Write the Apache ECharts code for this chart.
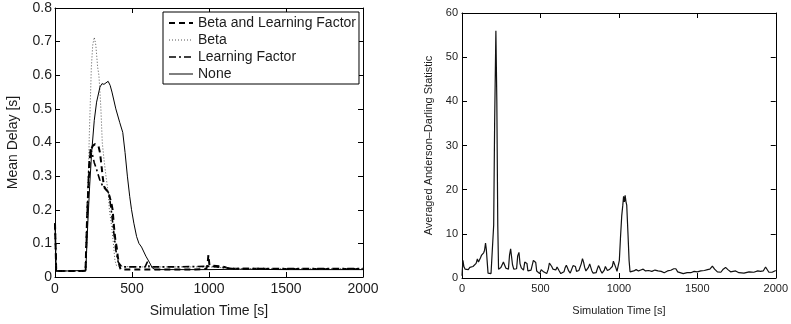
<!DOCTYPE html>
<html>
<head>
<meta charset="utf-8">
<title>Mean Delay and Anderson–Darling Statistic</title>
<script src="https://cdn.jsdelivr.net/npm/echarts@6/dist/echarts.min.js"></script>
<style>
  html, body { margin: 0; padding: 0; background: #fff; }
  #chart { width: 791px; height: 324px; }
</style>
</head>
<body>
<div id="chart"></div>
<script>
// ---- data: [simulation time (s), value] ----
const seriesNames = ['Beta and Learning Factor', 'Beta', 'Learning Factor', 'None'];

const delayBetaLF = [
  [0, 0.16], [8, 0.018], [100, 0.018], [198, 0.018], [210, 0.2], [220, 0.3], [231, 0.376],
  [245, 0.39], [260, 0.395], [270, 0.4], [282, 0.39], [292, 0.37], [300, 0.34], [309, 0.3],
  [318, 0.27], [331, 0.26], [345, 0.255], [357, 0.25], [366, 0.22], [374, 0.2], [383, 0.15],
  [392, 0.11], [400, 0.09], [408, 0.06], [415, 0.04], [426, 0.022], [500, 0.022], [700, 0.022],
  [900, 0.022], [982, 0.024], [990, 0.035], [996, 0.065], [1003, 0.035], [1012, 0.03],
  [1100, 0.03], [1130, 0.025], [1400, 0.024], [1700, 0.024], [2000, 0.024]
];

const delayBeta = [
  [0, 0.16], [8, 0.018], [100, 0.018], [200, 0.018], [206, 0.1], [212, 0.228], [218, 0.33],
  [223, 0.426], [230, 0.53], [236, 0.624], [245, 0.69], [255, 0.713], [265, 0.69], [277, 0.624],
  [285, 0.6], [292, 0.55], [298, 0.5], [307, 0.4], [318, 0.35], [331, 0.3], [346, 0.25],
  [353, 0.2], [368, 0.15], [379, 0.1], [389, 0.05], [400, 0.033], [500, 0.03], [700, 0.03],
  [900, 0.03], [1000, 0.03], [1080, 0.028], [1150, 0.025], [1500, 0.025], [2000, 0.025]
];

const delayLF = [
  [0, 0.16], [8, 0.018], [100, 0.018], [198, 0.018], [210, 0.2], [220, 0.33], [230, 0.38],
  [240, 0.37], [255, 0.34], [270, 0.32], [290, 0.29], [310, 0.27], [330, 0.26], [350, 0.25],
  [365, 0.2], [380, 0.14], [395, 0.08], [410, 0.045], [425, 0.035], [440, 0.03], [585, 0.03],
  [600, 0.045], [612, 0.03], [800, 0.03], [1000, 0.032], [1050, 0.03], [1100, 0.028],
  [1150, 0.025], [1600, 0.025], [2000, 0.025]
];

const delayNone = [
  [0, 0.16], [8, 0.018], [100, 0.018], [200, 0.02], [212, 0.15], [225, 0.27], [238, 0.37],
  [255, 0.466], [270, 0.52], [292, 0.565], [305, 0.575], [318, 0.573], [330, 0.578],
  [345, 0.582], [358, 0.57], [370, 0.55], [395, 0.5], [420, 0.46], [440, 0.43], [455, 0.37],
  [470, 0.3], [485, 0.24], [497, 0.2], [512, 0.16], [530, 0.12], [545, 0.1], [562, 0.089],
  [590, 0.062], [615, 0.042], [632, 0.027], [650, 0.022], [800, 0.022], [1000, 0.022],
  [1200, 0.023], [1500, 0.022], [2000, 0.022]
];

const andersonDarling = [
  [0, 0.5], [6, 4.0], [12, 2.6], [20, 2.0], [30, 2.3], [40, 1.9], [50, 2.4], [60, 2.2],
  [70, 2.6], [80, 2.2], [90, 3.3], [98, 4.3], [105, 3.6], [112, 3.2], [118, 4.6], [125, 5.2],
  [132, 4.8], [138, 5.7], [144, 6.3], [150, 7.9], [155, 6.5], [160, 4.0], [166, 1.1],
  [175, 1.0], [185, 1.0], [195, 1.1], [202, 12], [208, 35], [216, 56], [222, 40], [228, 12],
  [233, 2.0], [240, 1.9], [248, 2.4], [256, 3.0], [264, 3.6], [272, 2.9], [280, 2.2],
  [288, 1.8], [296, 2.0], [303, 5.2], [310, 6.6], [316, 6.4], [322, 3.0], [330, 2.0],
  [340, 1.7], [348, 2.1], [355, 5.0], [363, 5.8], [370, 3.2], [378, 2.3], [385, 2.1],
  [392, 1.8], [400, 3.6], [407, 3.7], [414, 3.3], [420, 1.6], [430, 1.9], [440, 1.8],
  [448, 1.7], [455, 4.0], [463, 4.2], [470, 3.5], [476, 1.6], [486, 1.2], [495, 1.0],
  [505, 1.9], [512, 2.0], [520, 1.4], [530, 1.0], [540, 1.0], [550, 2.0], [557, 3.4],
  [565, 3.6], [572, 2.6], [580, 2.0], [590, 2.4], [598, 1.8], [606, 2.5], [612, 2.4],
  [620, 1.6], [630, 1.0], [640, 0.9], [650, 1.4], [658, 2.4], [665, 2.9], [672, 2.3],
  [680, 1.6], [690, 1.1], [700, 1.4], [708, 2.8], [716, 3.2], [723, 2.6], [730, 1.5],
  [738, 1.2], [745, 1.7], [752, 1.8], [760, 3.2], [768, 4.4], [775, 3.6], [782, 2.4],
  [790, 1.6], [798, 1.4], [806, 2.4], [814, 3.2], [820, 2.8], [828, 1.6], [836, 1.1],
  [845, 1.1], [855, 1.2], [862, 2.0], [870, 2.8], [877, 2.3], [885, 1.6], [893, 1.1],
  [900, 1.2], [907, 1.8], [914, 2.6], [920, 2.2], [927, 1.7], [935, 1.6], [942, 2.0],
  [950, 1.8], [958, 2.6], [965, 3.8], [972, 3.4], [980, 2.4], [988, 1.5], [995, 1.2],
  [1003, 4], [1010, 9], [1018, 14], [1025, 16.5], [1030, 18.5], [1035, 17.2], [1040, 18.7],
  [1045, 17.3], [1050, 16.5], [1058, 10], [1065, 4], [1071, 1.4], [1080, 1.7], [1095, 1.6],
  [1110, 1.9], [1125, 1.6], [1140, 1.8], [1155, 2.0], [1170, 1.6], [1190, 1.7], [1210, 1.5],
  [1230, 1.8], [1250, 1.6], [1270, 1.5], [1289, 1.2], [1310, 1.6], [1331, 1.75], [1350, 2.1],
  [1363, 2.1], [1375, 1.4], [1384, 1.0], [1410, 1.0], [1435, 1.2], [1458, 1.2], [1480, 1.5],
  [1500, 1.4], [1522, 1.6], [1545, 1.7], [1565, 1.9], [1580, 2.0], [1596, 2.7], [1610, 2.0],
  [1628, 1.4], [1650, 1.3], [1665, 2.0], [1680, 2.4], [1695, 1.9], [1712, 1.4], [1728, 1.5],
  [1744, 1.6], [1765, 1.2], [1797, 1.1], [1830, 1.4], [1860, 1.3], [1885, 1.6], [1903, 1.5],
  [1920, 1.6], [1935, 2.5], [1945, 2.6], [1956, 1.3], [1977, 1.3], [1988, 1.3], [2000, 1.7]
];

// ---- tick labels ----
const timeTicks = ['0', '500', '1000', '1500', '2000'];
const delayTicks = ['0', '0.1', '0.2', '0.3', '0.4', '0.5', '0.6', '0.7', '0.8'];
const adTicks = ['0', '10', '20', '30', '40', '50', '60'];

// ---- styling helpers ----
const FONT = '"Liberation Sans", Arial, Helvetica, sans-serif';
const INK = '#1c1c1c';

// line look of each delay curve (also used for its legend sample)
const lineLooks = [
  { color: '#000', width: 2, type: [6, 4] },
  { color: '#555', width: 1, type: [1, 2] },
  { color: '#000', width: 1.6, type: [7, 3, 2, 3] },
  { color: '#000', width: 1, type: 'solid' }
];

function boxAxis(opts) {
  const base = {
    type: 'value',
    gridIndex: opts.grid,
    position: opts.position,
    min: opts.min,
    max: opts.max,
    interval: opts.interval,
    splitLine: { show: false },
    axisLine: { show: true, onZero: false, lineStyle: { color: '#000', width: 1 } },
    axisTick: { show: true, inside: true, length: 5, lineStyle: { color: '#000', width: 1 } },
    axisLabel: { show: false }
  };
  if (opts.ticks) {
    base.axisLabel = {
      show: true,
      color: INK,
      fontFamily: FONT,
      fontSize: opts.fontSize,
      margin: opts.margin,
      formatter: (v) => opts.ticks[Math.round((v - opts.min) / opts.interval)]
    };
  }
  if (opts.name) {
    base.name = opts.name;
    base.nameLocation = 'middle';
    base.nameGap = opts.nameGap;
    base.nameTextStyle = { color: INK, fontFamily: FONT, fontSize: opts.nameSize };
  }
  return base;
}

const xAxes = [
  boxAxis({ grid: 0, position: 'bottom', min: 0, max: 2000, interval: 500, ticks: timeTicks,
            fontSize: 14, margin: 5, name: 'Simulation Time [s]', nameGap: 27, nameSize: 14 }),
  boxAxis({ grid: 0, position: 'top', min: 0, max: 2000, interval: 500 }),
  boxAxis({ grid: 1, position: 'bottom', min: 0, max: 2000, interval: 500, ticks: timeTicks,
            fontSize: 11, margin: 5, name: 'Simulation Time [s]', nameGap: 27, nameSize: 11 }),
  boxAxis({ grid: 1, position: 'top', min: 0, max: 2000, interval: 500 })
];

const yAxes = [
  boxAxis({ grid: 0, position: 'left', min: 0, max: 0.8, interval: 0.1, ticks: delayTicks,
            fontSize: 14, margin: 3, name: 'Mean Delay [s]', nameGap: 35, nameSize: 14 }),
  boxAxis({ grid: 0, position: 'right', min: 0, max: 0.8, interval: 0.1 }),
  boxAxis({ grid: 1, position: 'left', min: 0, max: 60, interval: 10, ticks: adTicks,
            fontSize: 11, margin: 4, name: 'Averaged Anderson\u2013Darling Statistic', nameGap: 28, nameSize: 11 }),
  boxAxis({ grid: 1, position: 'right', min: 0, max: 60, interval: 10 })
];

function delayLine(i, data) {
  return {
    name: seriesNames[i],
    type: 'line',
    xAxisIndex: 0,
    yAxisIndex: 0,
    data: data,
    symbol: 'none',
    smooth: false,
    lineStyle: Object.assign({}, lineLooks[i]),
    itemStyle: { color: '#000' }
  };
}

const option = {
  animation: false,
  backgroundColor: '#fff',
  grid: [
    { left: 55, top: 8, width: 308, height: 269 },
    { left: 462, top: 13, width: 315, height: 265 }
  ],
  xAxis: xAxes,
  yAxis: yAxes,
  legend: {
    orient: 'vertical',
    left: 163,
    top: 12,
    padding: [3, 3, 2, 5],
    itemWidth: 24,
    itemHeight: 12,
    itemGap: 1,
    backgroundColor: '#fff',
    borderColor: '#000',
    borderWidth: 1,
    borderRadius: 0,
    selectedMode: false,
    data: seriesNames.map((name, i) => ({ name: name, lineStyle: Object.assign({}, lineLooks[i]) })),
    // only the line sample is shown, no marker in its middle
    itemStyle: { opacity: 0, borderWidth: 0 },
    textStyle: { color: INK, fontFamily: FONT, fontSize: 14, lineHeight: 16, padding: [0, 0, 0, 0] }
  },
  series: [
    delayLine(0, delayBetaLF),
    delayLine(1, delayBeta),
    delayLine(2, delayLF),
    delayLine(3, delayNone),
    {
      name: 'Anderson-Darling',
      type: 'line',
      xAxisIndex: 2,
      yAxisIndex: 2,
      data: andersonDarling,
      symbol: 'none',
      lineStyle: { color: '#111', width: 1.2 }
    }
  ]
};

const chart = echarts.init(document.getElementById('chart'), null, { renderer: 'canvas' });
chart.setOption(option);
</script>
</body>
</html>
